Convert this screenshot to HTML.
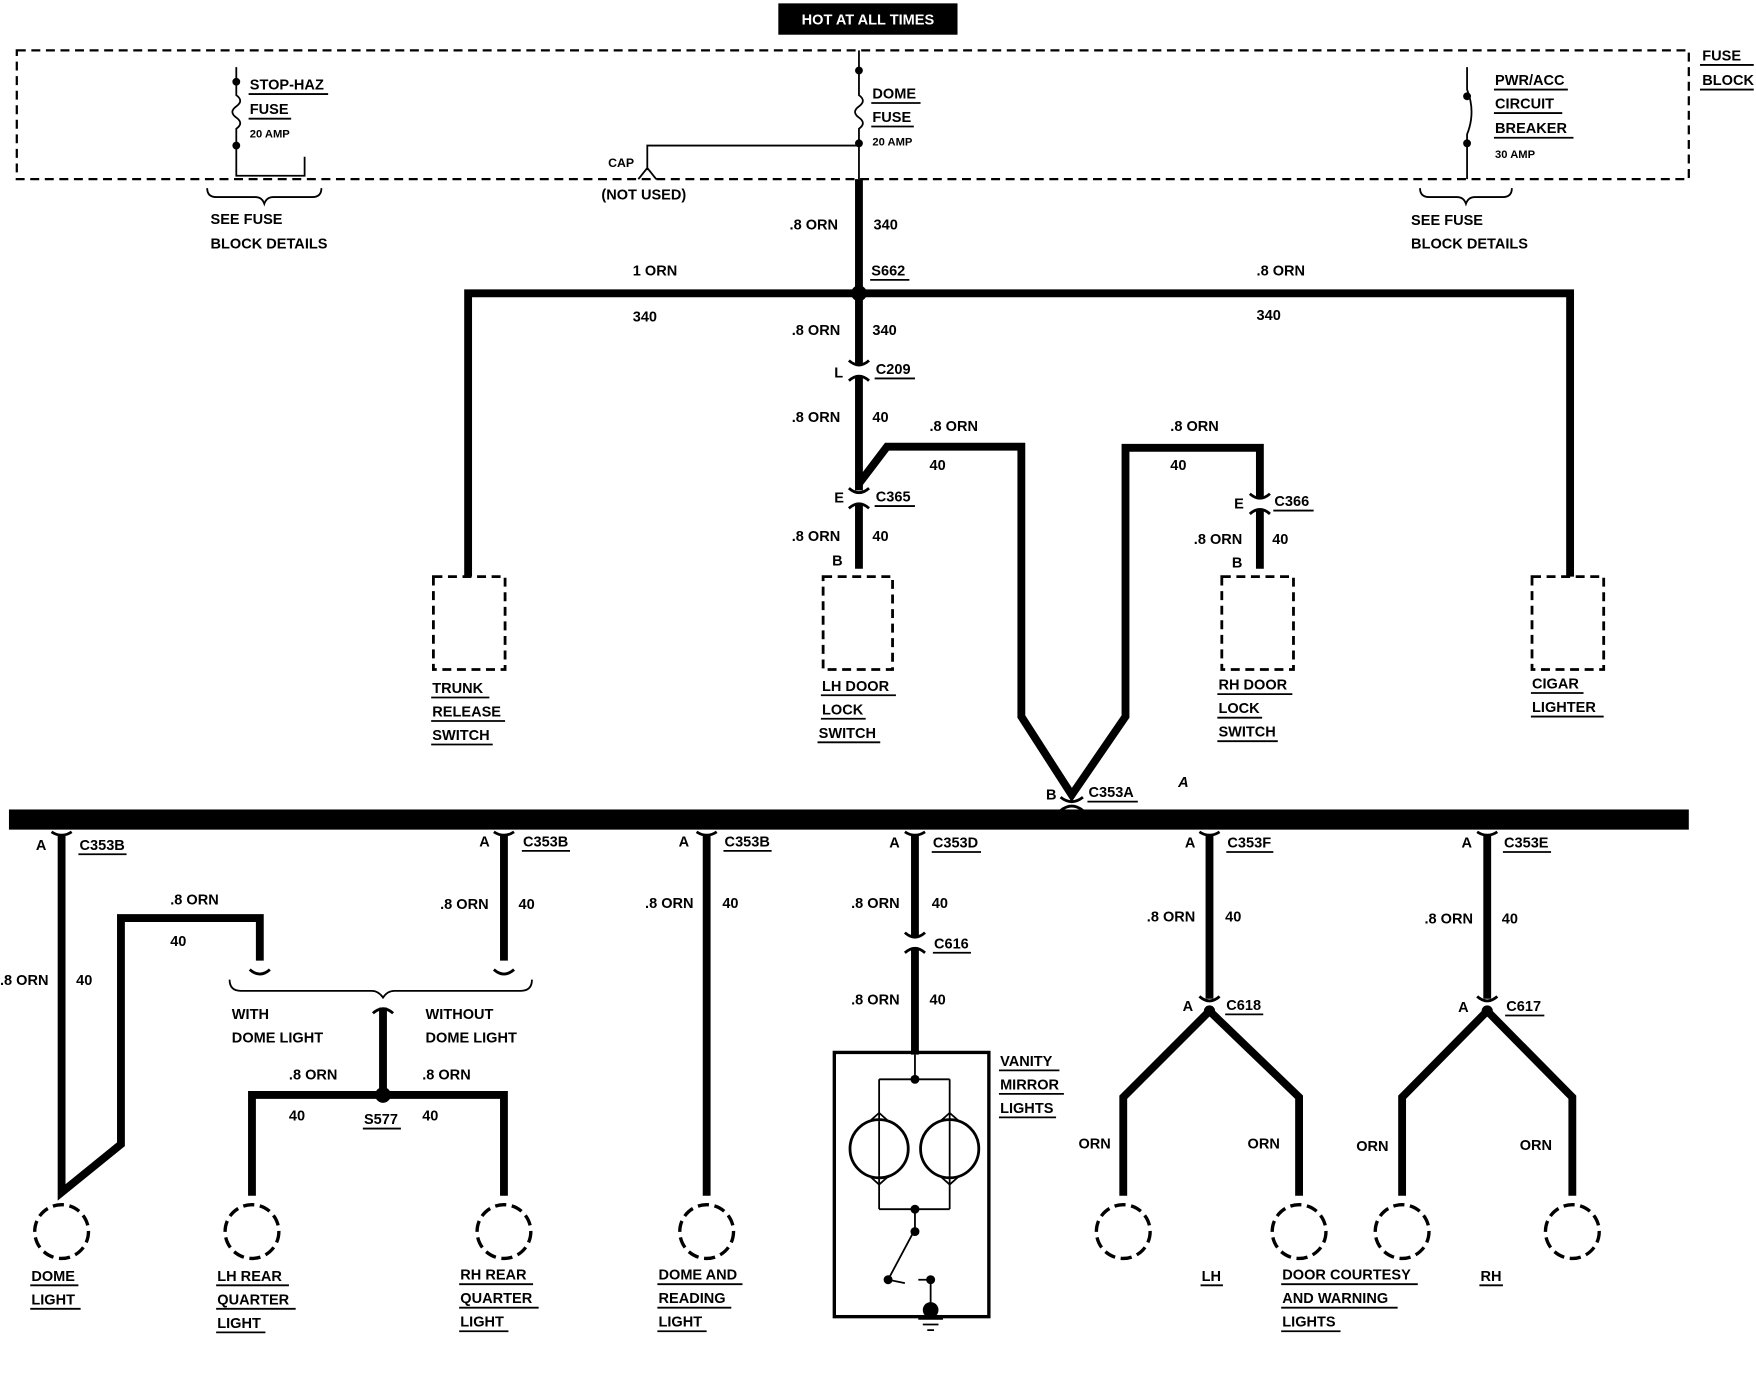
<!DOCTYPE html>
<html><head><meta charset="utf-8">
<style>
html,body{margin:0;padding:0;background:#fff;}
svg{display:block;}
text{font-family:"Liberation Sans",sans-serif;font-weight:bold;font-size:13px;fill:#000;}
.w{stroke:#000;stroke-width:7;fill:none;stroke-linejoin:miter;}
.t{stroke:#000;stroke-width:1.6;fill:none;}
.c{stroke:#000;stroke-width:2.5;fill:none;}
.d{stroke:#000;stroke-width:2.5;fill:none;stroke-dasharray:8 5;}
.u{stroke:#000;stroke-width:1.6;}
</style></head><body>
<svg width="1756" height="1376" viewBox="0 0 1568 1229" preserveAspectRatio="none" xmlns="http://www.w3.org/2000/svg">
<rect width="1568" height="1229" fill="#fff"/>
<!-- top label -->
<rect x="695" y="3" width="160" height="28" fill="#000"/>
<text x="775" y="22" text-anchor="middle" style="fill:#fff;font-size:13px">HOT AT ALL TIMES</text>
<!-- fuse block -->
<rect x="15" y="45" width="1493" height="115" class="d" style="stroke-width:2"/>
<text x="1520" y="54">FUSE</text><text x="1520" y="76">BLOCK</text>
<line class="u" x1="1518" y1="58" x2="1566" y2="58"/><line class="u" x1="1518" y1="80" x2="1566" y2="80"/>
<!-- left fuse -->
<path class="t" d="M211 60 V85 q7 5 0 10 q-7 5 0 10 q7 5 0 10 V157 M211 130 V157 H272 V140"/>
<circle cx="211" cy="73" r="3.5"/><circle cx="211" cy="130" r="3.5"/>
<text x="223" y="80">STOP-HAZ</text><line class="u" x1="222" y1="84" x2="293" y2="84"/>
<text x="223" y="102">FUSE</text><line class="u" x1="222" y1="106" x2="260" y2="106"/>
<text x="223" y="123" style="font-size:10px">20 AMP</text>
<path class="t" d="M185 168 q0 8 8 8 h35 q6 0 8 6 q2 -6 8 -6 h35 q8 0 8 -8"/>
<text x="188" y="200">SEE FUSE</text><text x="188" y="222">BLOCK DETAILS</text>
<!-- dome fuse -->
<path class="t" d="M767 45 V85 q7 5 0 10 q-7 5 0 10 q7 5 0 10 V160"/>
<circle cx="767" cy="63" r="3.5"/><circle cx="767" cy="128" r="3.5"/>
<text x="779" y="88">DOME</text><line class="u" x1="778" y1="92" x2="822" y2="92"/>
<text x="779" y="109">FUSE</text><line class="u" x1="778" y1="113" x2="816" y2="113"/>
<text x="779" y="130" style="font-size:10px">20 AMP</text>
<path class="t" d="M767 130 H578 V152 M570 160 L578 150 L586 160"/>
<text x="543" y="149" style="font-size:11px">CAP</text>
<text x="537" y="178">(NOT USED)</text>
<!-- right breaker -->
<path class="t" d="M1310 60 V80 q8 20 0 40 V160"/>
<circle cx="1310" cy="86" r="3.5"/><circle cx="1310" cy="128" r="3.5"/>
<text x="1335" y="76">PWR/ACC</text><line class="u" x1="1334" y1="80" x2="1400" y2="80"/>
<text x="1335" y="97">CIRCUIT</text><line class="u" x1="1334" y1="101" x2="1395" y2="101"/>
<text x="1335" y="119">BREAKER</text><line class="u" x1="1334" y1="123" x2="1405" y2="123"/>
<text x="1335" y="141" style="font-size:10px">30 AMP</text>
<path class="t" d="M1268 168 q0 8 8 8 h25 q6 0 8 6 q2 -6 8 -6 h25 q8 0 8 -8"/>
<text x="1260" y="201">SEE FUSE</text><text x="1260" y="222">BLOCK DETAILS</text>
<!-- main wires -->
<path class="w" d="M767 160 V326 M767 336 V438 M767 450 V508"/>
<path class="w" d="M418 515 V262 H1402 V515"/>
<circle cx="767" cy="262" r="7"/>
<path class="w" d="M767 432 L792 399 H912 V640 L957 710 L1005 640 V400 H1125 V444 M1125 455 V508"/>
<!-- connectors -->
<g class="c">
<path d="M758 322 q9 8 18 0 M758 340 q9 -8 18 0"/>
<path d="M758 436 q9 8 18 0 M758 454 q9 -8 18 0"/>
<path d="M1116 441 q9 8 18 0 M1116 459 q9 -8 18 0"/>
<path d="M947 712 q10 8 20 0 M947 724 q10 -8 20 0"/>
</g>
<text x="705" y="205">.8 ORN</text><text x="780" y="205">340</text>
<text x="778" y="246">S662</text><line class="u" x1="777" y1="250" x2="812" y2="250"/>
<text x="565" y="246">1 ORN</text><text x="565" y="287">340</text>
<text x="1122" y="246">.8 ORN</text><text x="1122" y="286">340</text>
<text x="707" y="299">.8 ORN</text><text x="779" y="299">340</text>
<text x="745" y="337">L</text><text x="782" y="334">C209</text><line class="u" x1="781" y1="338" x2="817" y2="338"/>
<text x="707" y="377">.8 ORN</text><text x="779" y="377">40</text>
<text x="830" y="385">.8 ORN</text><text x="830" y="420">40</text>
<text x="1045" y="385">.8 ORN</text><text x="1045" y="420">40</text>
<text x="745" y="449">E</text><text x="782" y="448">C365</text><line class="u" x1="781" y1="452" x2="817" y2="452"/>
<text x="1102" y="454">E</text><text x="1138" y="452">C366</text><line class="u" x1="1137" y1="456" x2="1173" y2="456"/>
<text x="707" y="483">.8 ORN</text><text x="779" y="483">40</text>
<text x="1066" y="486">.8 ORN</text><text x="1136" y="486">40</text>
<text x="743" y="505">B</text><text x="1100" y="507">B</text>
<!-- switch boxes -->
<g class="d">
<rect x="387" y="515" width="64" height="83"/>
<rect x="735" y="515" width="62" height="83"/>
<rect x="1091" y="515" width="64" height="83"/>
<rect x="1368" y="515" width="64" height="83"/>
</g>
<text x="386" y="619">TRUNK</text><line class="u" x1="385" y1="623" x2="437" y2="623"/>
<text x="386" y="640">RELEASE</text><line class="u" x1="385" y1="644" x2="451" y2="644"/>
<text x="386" y="661">SWITCH</text><line class="u" x1="385" y1="665" x2="440" y2="665"/>
<text x="734" y="617">LH DOOR</text><line class="u" x1="733" y1="621" x2="800" y2="621"/>
<text x="734" y="638">LOCK</text><line class="u" x1="733" y1="642" x2="773" y2="642"/>
<text x="731" y="659">SWITCH</text><line class="u" x1="730" y1="663" x2="786" y2="663"/>
<text x="1088" y="616">RH DOOR</text><line class="u" x1="1087" y1="620" x2="1154" y2="620"/>
<text x="1088" y="637">LOCK</text><line class="u" x1="1087" y1="641" x2="1127" y2="641"/>
<text x="1088" y="658">SWITCH</text><line class="u" x1="1087" y1="662" x2="1141" y2="662"/>
<text x="1368" y="615">CIGAR</text><line class="u" x1="1367" y1="619" x2="1414" y2="619"/>
<text x="1368" y="636">LIGHTER</text><line class="u" x1="1367" y1="640" x2="1432" y2="640"/>
<text x="934" y="714">B</text><text x="972" y="712">C353A</text><line class="u" x1="971" y1="716" x2="1016" y2="716"/>
<text x="1052" y="703" style="font-style:italic">A</text>
<!-- bus -->
<rect x="8" y="723" width="1500" height="18" fill="#000"/>
<!-- bottom branches -->
<path class="w" d="M55 745 V1065 L108 1022 V820 H232 V858"/>
<path class="w" d="M450 745 V858"/>
<path class="w" d="M342 900 V978 M225 1068 V978 H450 V1068"/>
<circle cx="342" cy="978" r="7"/>
<path class="w" d="M631 745 V1068"/>
<path class="w" d="M817 745 V836 M817 848 V942"/>
<path class="w" d="M1080 745 V892 M1080 903 L1003 980 V1068 M1080 903 L1160 980 V1068"/>
<path class="w" d="M1328 745 V892 M1328 903 L1252 980 V1068 M1328 903 L1404 980 V1068"/>
<g class="c">
<path d="M46 743 q9 6 18 0"/><path d="M441 743 q9 6 18 0"/><path d="M622 743 q9 6 18 0"/>
<path d="M808 743 q9 6 18 0"/><path d="M1071 743 q9 6 18 0"/><path d="M1319 743 q9 6 18 0"/>
<path d="M223 866 q9 8 18 0"/><path d="M441 866 q9 8 18 0"/>
<path d="M808 833 q9 8 18 0 M808 851 q9 -8 18 0"/>
<path d="M1071 890 q9 8 18 0"/><path d="M1319 890 q9 8 18 0"/>
<path d="M333 905 q9 -8 18 0"/>
</g>
<circle cx="1080" cy="903" r="5"/><circle cx="1328" cy="903" r="5"/>
<path class="t" d="M205 875 q0 10 10 10 h117 q6 0 10 6 q4 -6 10 -6 h113 q10 0 10 -10"/>
<text x="32" y="759">A</text><text x="71" y="759">C353B</text><line class="u" x1="70" y1="763" x2="113" y2="763"/>
<text x="428" y="756">A</text><text x="467" y="756">C353B</text><line class="u" x1="466" y1="760" x2="509" y2="760"/>
<text x="606" y="756">A</text><text x="647" y="756">C353B</text><line class="u" x1="646" y1="760" x2="689" y2="760"/>
<text x="794" y="757">A</text><text x="833" y="757">C353D</text><line class="u" x1="832" y1="761" x2="876" y2="761"/>
<text x="1058" y="757">A</text><text x="1096" y="757">C353F</text><line class="u" x1="1095" y1="761" x2="1137" y2="761"/>
<text x="1305" y="757">A</text><text x="1343" y="757">C353E</text><line class="u" x1="1342" y1="761" x2="1385" y2="761"/>
<text x="0" y="880">.8 ORN</text><text x="68" y="880">40</text>
<text x="152" y="808">.8 ORN</text><text x="152" y="845">40</text>
<text x="393" y="812">.8 ORN</text><text x="463" y="812">40</text>
<text x="576" y="811">.8 ORN</text><text x="645" y="811">40</text>
<text x="760" y="811">.8 ORN</text><text x="832" y="811">40</text>
<text x="834" y="847">C616</text><line class="u" x1="833" y1="851" x2="867" y2="851"/>
<text x="760" y="897">.8 ORN</text><text x="830" y="897">40</text>
<text x="1024" y="823">.8 ORN</text><text x="1094" y="823">40</text>
<text x="1272" y="825">.8 ORN</text><text x="1341" y="825">40</text>
<text x="1056" y="903">A</text><text x="1095" y="902">C618</text><line class="u" x1="1094" y1="906" x2="1128" y2="906"/>
<text x="1302" y="904">A</text><text x="1345" y="903">C617</text><line class="u" x1="1344" y1="907" x2="1379" y2="907"/>
<text x="207" y="910">WITH</text><text x="207" y="931">DOME LIGHT</text>
<text x="380" y="910">WITHOUT</text><text x="380" y="931">DOME LIGHT</text>
<text x="258" y="964">.8 ORN</text><text x="258" y="1001">40</text>
<text x="377" y="964">.8 ORN</text><text x="377" y="1001">40</text>
<text x="325" y="1004">S577</text><line class="u" x1="324" y1="1008" x2="358" y2="1008"/>
<text x="963" y="1026">ORN</text><text x="1114" y="1026">ORN</text>
<text x="1211" y="1028">ORN</text><text x="1357" y="1027">ORN</text>
<!-- lamps -->
<g class="d" style="stroke-width:3;stroke-dasharray:10 5">
<circle cx="55" cy="1100" r="24"/><circle cx="225" cy="1100" r="24"/><circle cx="450" cy="1100" r="24"/>
<circle cx="631" cy="1100" r="24"/><circle cx="1003" cy="1100" r="24"/><circle cx="1160" cy="1100" r="24"/>
<circle cx="1252" cy="1100" r="24"/><circle cx="1404" cy="1100" r="24"/>
</g>
<!-- vanity -->
<rect x="745" y="940" width="138" height="236" class="c" style="stroke-width:3"/>
<path class="t" d="M817 942 V964 M785 964 H848 M785 964 V1002 M848 964 V1002 M785 1050 V1080 M848 1050 V1080 M785 1080 H848 M817 1080 V1098 L793 1143 M793 1143 L808 1146 M820 1143 L831 1143 V1168"/>
<circle cx="817" cy="964" r="4"/><circle cx="817" cy="1080" r="4"/><circle cx="817" cy="1100" r="4"/>
<circle cx="793" cy="1143" r="4"/><circle cx="831" cy="1143" r="4"/><circle cx="831" cy="1170" r="7"/>
<g class="c"><circle cx="785" cy="1026" r="26"/><circle cx="848" cy="1026" r="26"/></g>
<path class="t" d="M776 1002 l9 -8 l9 8 M776 1050 l9 8 l9 -8 M839 1002 l9 -8 l9 8 M839 1050 l9 8 l9 -8"/>
<path class="t" d="M785 1002 V1050 M848 1002 V1050"/>
<path class="t" d="M820 1178 h22 M824 1183 h14 M828 1188 h6"/>
<text x="893" y="952">VANITY</text><line class="u" x1="892" y1="956" x2="946" y2="956"/>
<text x="893" y="973">MIRROR</text><line class="u" x1="892" y1="977" x2="950" y2="977"/>
<text x="893" y="994">LIGHTS</text><line class="u" x1="892" y1="998" x2="943" y2="998"/>
<!-- bottom labels -->
<text x="28" y="1144">DOME</text><line class="u" x1="27" y1="1148" x2="70" y2="1148"/>
<text x="28" y="1165">LIGHT</text><line class="u" x1="27" y1="1169" x2="72" y2="1169"/>
<text x="194" y="1144">LH REAR</text><line class="u" x1="193" y1="1148" x2="258" y2="1148"/>
<text x="194" y="1165">QUARTER</text><line class="u" x1="193" y1="1169" x2="264" y2="1169"/>
<text x="194" y="1186">LIGHT</text><line class="u" x1="193" y1="1190" x2="237" y2="1190"/>
<text x="411" y="1143">RH REAR</text><line class="u" x1="410" y1="1147" x2="476" y2="1147"/>
<text x="411" y="1164">QUARTER</text><line class="u" x1="410" y1="1168" x2="481" y2="1168"/>
<text x="411" y="1185">LIGHT</text><line class="u" x1="410" y1="1189" x2="454" y2="1189"/>
<text x="588" y="1143">DOME AND</text><line class="u" x1="587" y1="1147" x2="663" y2="1147"/>
<text x="588" y="1164">READING</text><line class="u" x1="587" y1="1168" x2="653" y2="1168"/>
<text x="588" y="1185">LIGHT</text><line class="u" x1="587" y1="1189" x2="631" y2="1189"/>
<text x="1073" y="1144">LH</text><line class="u" x1="1072" y1="1148" x2="1092" y2="1148"/>
<text x="1145" y="1143">DOOR COURTESY</text><line class="u" x1="1144" y1="1147" x2="1266" y2="1147"/>
<text x="1145" y="1164">AND WARNING</text><line class="u" x1="1144" y1="1168" x2="1248" y2="1168"/>
<text x="1145" y="1185">LIGHTS</text><line class="u" x1="1144" y1="1189" x2="1197" y2="1189"/>
<text x="1322" y="1144">RH</text><line class="u" x1="1321" y1="1148" x2="1342" y2="1148"/>
</svg>
</body></html>
